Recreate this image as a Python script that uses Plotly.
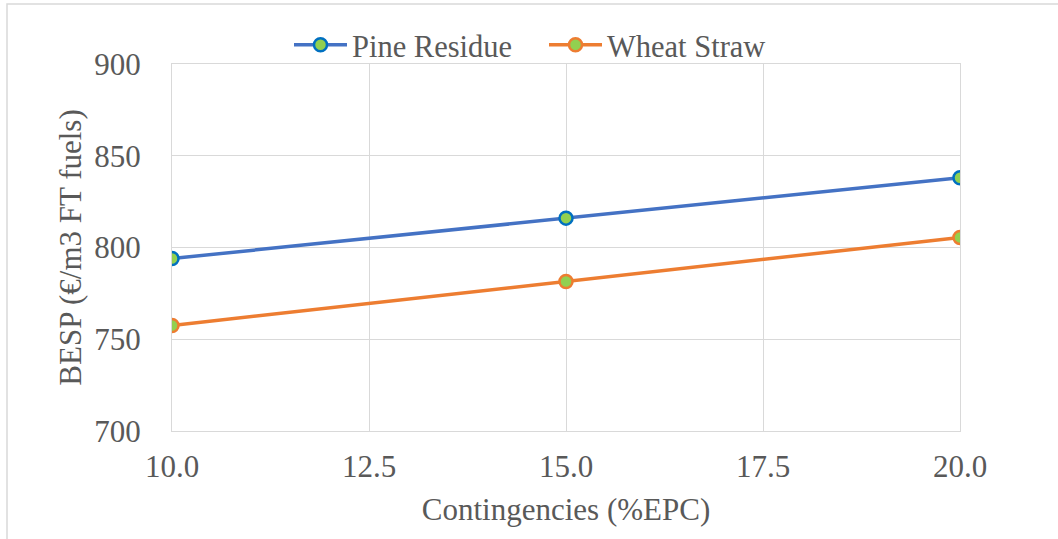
import plotly.graph_objects as go

contingencies = [10.0, 15.0, 20.0]
pine_residue = [794, 816, 838]
wheat_straw = [757.5, 781.5, 805.5]

x_ticks = [10.0, 12.5, 15.0, 17.5, 20.0]
y_ticks = [700, 750, 800, 850, 900]

FONT = "Liberation Serif, Times New Roman, serif"
TXT = "#595959"
GRID = "#D9D9D9"

fig = go.Figure()
fig.add_trace(go.Scatter(
    x=contingencies, y=pine_residue, name="Pine Residue", mode="lines+markers",
    line=dict(color="#4472C4", width=3.5),
    marker=dict(size=13, color="#92D050", line=dict(color="#0070C0", width=2.5)),
))
fig.add_trace(go.Scatter(
    x=contingencies, y=wheat_straw, name="Wheat Straw", mode="lines+markers",
    line=dict(color="#ED7D31", width=3.5),
    marker=dict(size=13, color="#92D050", line=dict(color="#ED7D31", width=2.5)),
))

fig.update_layout(
    width=1058, height=539,
    margin=dict(l=172, r=98, t=64, b=108),
    paper_bgcolor="white", plot_bgcolor="white",
    font=dict(family=FONT, size=31, color=TXT),
    legend=dict(orientation="h", x=(289 - 172) / 788, xanchor="left", y=1.052, yanchor="middle",
                font=dict(size=30.5, color=TXT), bgcolor="rgba(0,0,0,0)",
                itemwidth=53, entrywidth=187, entrywidthmode="pixels",
                tracegroupgap=0),
    xaxis=dict(
        range=[10, 20], tickvals=x_ticks, tickformat=".1f",
        showgrid=True, gridcolor=GRID, gridwidth=1,
        showline=True, linecolor=GRID, linewidth=1, mirror=True,
        zeroline=False, ticks="", ticklabelstandoff=8,
        tickfont=dict(size=31, color=TXT),
        title=dict(text="Contingencies (%EPC)", font=dict(size=31, color=TXT), standoff=15),
    ),
    yaxis=dict(
        range=[700, 900], tickvals=y_ticks,
        showgrid=True, gridcolor=GRID, gridwidth=1,
        showline=True, linecolor=GRID, linewidth=1, mirror=True,
        zeroline=False, ticks="", ticklabelstandoff=24,
        tickfont=dict(size=31, color=TXT),
        title=dict(text="BESP (€/m3 FT fuels)", font=dict(size=31, color=TXT), standoff=3),
    ),
    shapes=[dict(type="rect", xref="paper", yref="paper",
                 x0=(7 - 172) / 788, x1=1.3, y0=-0.6, y1=1 + (64 - 4) / 367,
                 line=dict(color="#D9D9D9", width=1.5), fillcolor="rgba(0,0,0,0)", layer="below")],
)

fig.write_html("out.html")
